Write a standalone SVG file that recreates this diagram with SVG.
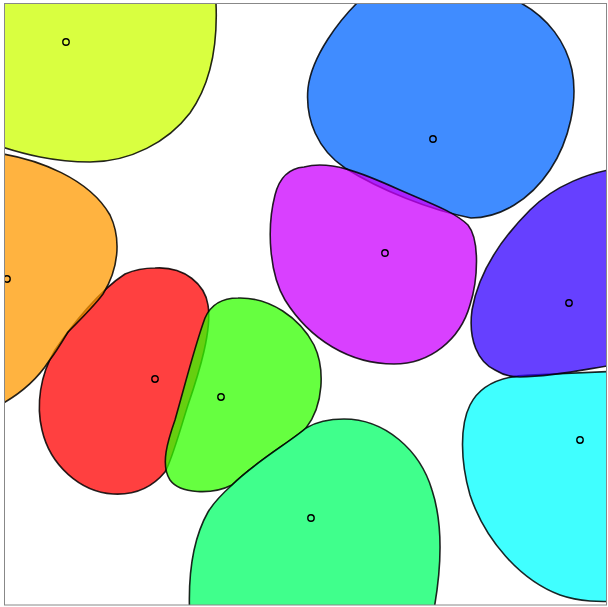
<svg xmlns="http://www.w3.org/2000/svg" width="608" height="607" viewBox="0 0 608 607">
<defs>
<clipPath id="frame"><rect x="4.5" y="3.5" width="602" height="601.5"/></clipPath>
<style>
.blob{fill-opacity:0.75;stroke:#000;stroke-opacity:0.85;stroke-width:1.6}
.site{fill:none;stroke:#000;stroke-width:1.4}
</style>
</defs>
<rect x="0" y="0" width="608" height="607" fill="#fff"/>
<g clip-path="url(#frame)">
<g id="red"><path class="blob" fill="#ff0000" d="M155,268 C185,266 205,285 208,305 C212,330 200,370 188,405 C180,430 172,460 165,472 C150,490 130,495 113,494 C80,492 50,465 42,430 C36,405 40,375 55,350 C72,325 100,290 125,274 C134,270 144,268 155,268 Z"/><circle class="site" cx="155" cy="379" r="3.2"/></g>
<g id="orange"><path class="blob" fill="#ff9900" d="M-10,152 C40,158 90,180 110,215 C122,240 118,270 103,294 C95,305 80,320 68,332 C62,342 56,352 49,361 C38,378 20,396 -10,410 Z"/><circle class="site" cx="7" cy="279" r="3.2"/></g>
<g id="yellow"><path class="blob" fill="#ccff00" d="M-10,-20 L216,-20 L216,3 C218,50 210,85 190,113 C168,142 130,162 90,162 C55,162 25,155 -10,143 Z"/><circle class="site" cx="66" cy="42" r="3.2"/></g>
<g id="green"><path class="blob" fill="#33ff00" d="M238,298 C270,297 300,318 314,345 C325,368 324,405 306,428 C290,442 255,462 232,485 C212,495 180,494 170,480 C160,465 168,440 175,420 C185,385 195,345 205,318 C212,302 225,298 238,298 Z"/><circle class="site" cx="221" cy="397" r="3.2"/></g>
<g id="teal"><path class="blob" fill="#00ff66" d="M344,419 C385,419 420,450 432,490 C445,530 440,580 432,620 L190,620 C187,570 195,535 208,512 C214,502 222,494 232,485 C255,462 290,442 306,428 C316,422 330,419 344,419 Z"/><circle class="site" cx="311" cy="518" r="3.2"/></g>
<g id="cyan"><path class="blob" fill="#00ffff" d="M620,371 L530,375 C500,376 480,385 470,405 C460,425 460,460 470,495 C485,540 520,580 560,595 C580,602 600,602 620,601 Z"/><circle class="site" cx="580" cy="440" r="3.2"/></g>
<g id="blue"><path class="blob" fill="#0066ff" d="M372,-12 L357,3 C340,20 312,55 308,88 C305,120 318,150 345,168 C380,190 430,210 471,218 C500,218 530,200 550,170 C570,140 578,100 572,70 C566,42 548,18 521,3 L505,-12 Z"/><circle class="site" cx="433" cy="139" r="3.2"/></g>
<g id="indigo"><path class="blob" fill="#3300ff" d="M620,168 C590,172 555,185 530,210 C500,240 478,275 472,310 C468,340 478,362 495,370 C503,375 510,377 520,377 C560,376 590,368 620,364 Z"/><circle class="site" cx="569" cy="303" r="3.2"/></g>
<g id="magenta"><path class="blob" fill="#cc00ff" d="M304,167 C330,160 360,172 400,190 C430,203 455,212 468,225 C480,240 478,280 470,305 C460,340 430,364 394,364 C350,364 310,340 285,300 C270,275 266,230 275,195 C280,175 292,168 304,167 Z"/><circle class="site" cx="385" cy="253" r="3.2"/></g>
</g>
<rect x="4.5" y="3.5" width="602" height="601.5" fill="none" stroke="#888" stroke-width="1"/>
</svg>
